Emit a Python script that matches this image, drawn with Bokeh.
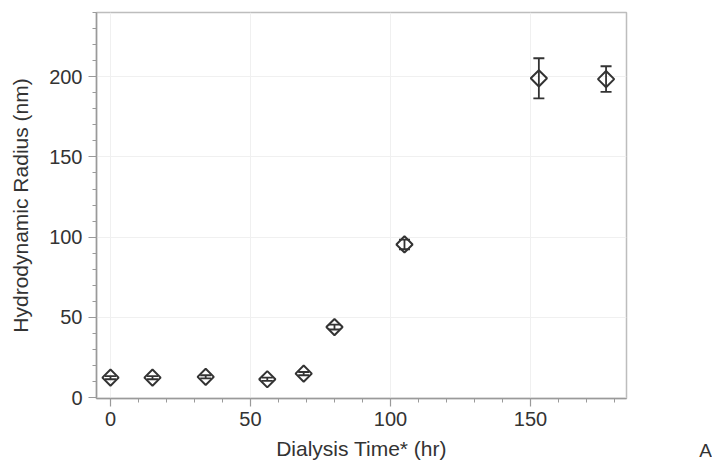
import numpy as np
from bokeh.plotting import figure
from bokeh.models import (Range1d, SingleIntervalTicker, Whisker, TeeHead,
                          ColumnDataSource, Label)
from bokeh.embed import file_html
from bokeh.resources import INLINE

# Data
dialysis_time = [0, 15, 34, 56, 69, 80, 105, 153, 177]
radius_nm = [12.5, 12.5, 13, 11.5, 15, 44, 95.5, 199, 198.5]
radius_err = [1, 1, 1, 1, 1, 1.5, 3, 12.5, 8]

x_label = "Dialysis Time* (hr)"
y_label = "Hydrodynamic Radius (nm)"
panel_label = "A"

FONT = "Liberation Sans"
TXT = "#333333"
AX = "#9a9a9a"

src = ColumnDataSource(dict(
    x=dialysis_time, y=radius_nm,
    upper=[r + e for r, e in zip(radius_nm, radius_err)],
    lower=[r - e for r, e in zip(radius_nm, radius_err)],
))

p = figure(width=712, height=464, output_backend="svg", toolbar_location=None,
           x_range=Range1d(-5, 184.3), y_range=Range1d(-0.5, 240),
           min_border_left=96, min_border_right=86, min_border_top=12,
           min_border_bottom=66)

p.outline_line_color = "#bdbdbd"
p.outline_line_width = 1.5

for ax, lab in ((p.xaxis[0], x_label), (p.yaxis[0], y_label)):
    ax.ticker = SingleIntervalTicker(interval=50, num_minor_ticks=5)
    ax.axis_label = lab
    ax.axis_label_text_font = FONT
    ax.axis_label_text_font_style = "normal"
    ax.axis_label_text_font_size = "21px"
    ax.axis_label_text_color = TXT
    ax.major_label_text_font = FONT
    ax.major_label_text_font_size = "20px"
    ax.major_label_text_color = TXT
    ax.axis_line_color = AX
    ax.axis_line_width = 1.5
    ax.major_tick_line_color = AX
    ax.minor_tick_line_color = AX
    ax.major_tick_out = 8
    ax.major_tick_in = 0
    ax.minor_tick_out = 4
    ax.minor_tick_in = 0
    ax.major_tick_line_width = 1.2
    ax.minor_tick_line_width = 1

p.xaxis.axis_label_standoff = 8
p.yaxis.axis_label_standoff = 14
p.xaxis.major_label_standoff = 5
p.yaxis.major_label_standoff = 6

p.xgrid.grid_line_color = "#f0f0f0"
p.ygrid.grid_line_color = "#f0f0f0"
p.xgrid.ticker = SingleIntervalTicker(interval=50)
p.ygrid.ticker = SingleIntervalTicker(interval=50)

w = Whisker(base="x", upper="upper", lower="lower", source=src,
            dimension="height", line_color="#333333", line_width=1.8,
            upper_head=TeeHead(size=11, line_color="#333333", line_width=1.8),
            lower_head=TeeHead(size=11, line_color="#333333", line_width=1.8))
p.add_layout(w)

p.scatter("x", "y", source=src, marker="square", angle=np.pi / 4, size=11.5,
          fill_color=None, line_color="#333333", line_width=2)

# panel letter in the right side panel (not clipped to the frame)
p.add_layout(Label(x=79, y=-52, x_units="screen", y_units="screen",
                   text=panel_label, text_font=FONT,
                   text_font_size="19px", text_color=TXT,
                   text_align="center", text_baseline="middle"), "right")

open("out.html", "w").write(file_html(p, INLINE))
